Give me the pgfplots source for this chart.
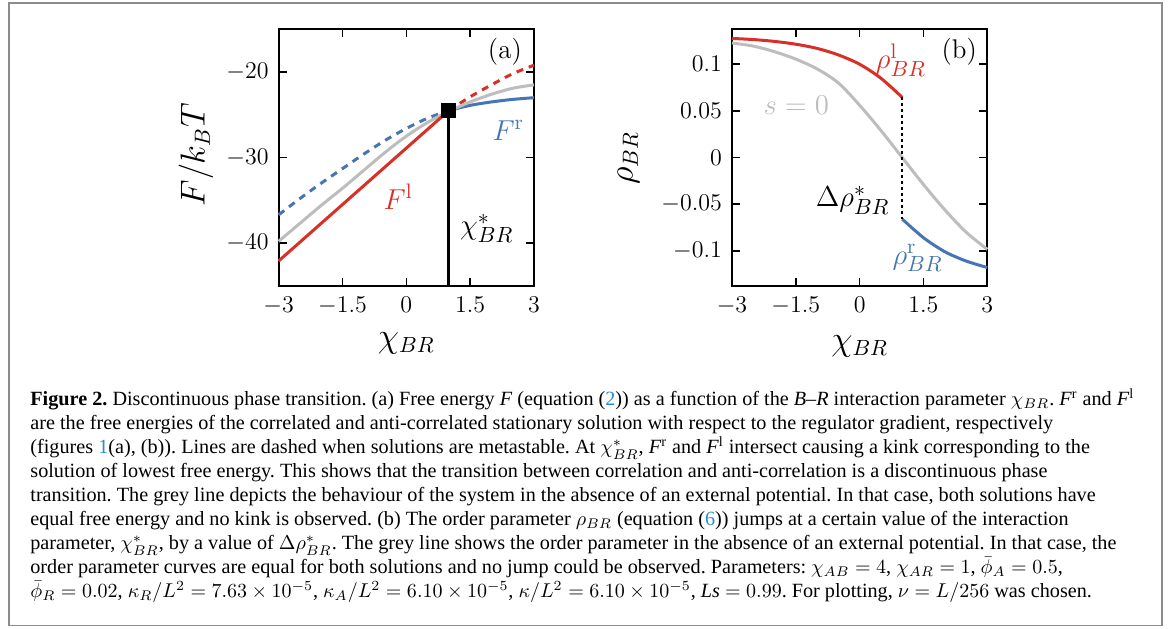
\documentclass[border=0pt]{standalone}
\usepackage{pgfplots}
\pgfplotsset{compat=1.18}
\usepackage{fontspec}
\newfontfamily\capfont{Liberation Serif}

\definecolor{cred}{HTML}{D73027}
\definecolor{cblue}{HTML}{4575B4}
\definecolor{cgrey}{HTML}{BDBDBD}
\definecolor{linkblue}{HTML}{2B8CD0}
\definecolor{framegrey}{HTML}{8C8C8C}

\pgfplotsset{
  panel/.style={
    scale only axis, width=127.65pt, height=128.2pt,
    anchor=south west, clip=false,
    xmin=-3, xmax=3,
    xtick={-3,-1.5,0,1.5,3},
    xticklabels={$-3$,$-1.5$,$0$,$1.5$,$3$},
    tick align=inside, xtick pos=both, ytick pos=both,
    major tick length=4pt,
    axis line style={line width=0.9pt},
    every tick/.style={black, line width=0.8pt},
    tick label style={font=\fontsize{11.5}{12}\selectfont},
    xticklabel style={yshift=-2pt},
    yticklabel style={xshift=-1.5pt},
    label style={font=\fontsize{16}{18}\selectfont},
    xlabel={$\chi_{BR}$},
  },
  curve/.style={line width=1.5pt, smooth},
  dashy/.style={dash pattern=on 3.5pt off 3pt},
}
\newcommand\lbl{\fontsize{15}{17}\selectfont}
\newcommand\Fsup[1]{\textit{F}\textsuperscript{#1}}
\tikzset{capline/.style={anchor=base west, inner sep=0pt,
  font=\capfont\fontsize{10.1}{12}\selectfont\frenchspacing}}

\begin{document}
\begin{tikzpicture}
\useasboundingbox (0,0) rectangle (585.5pt,314pt);
\draw[framegrey, line width=0.9pt] (4.5pt,1.3pt) rectangle (581pt,312.6pt);

% (a) free energy
\begin{axis}[panel, at={(139.35pt,171.15pt)},
  ymin=-45, ymax=-15, ytick={-40,-30,-20},
  yticklabels={$-40$,$-30$,$-20$},
  ylabel={$F/k_BT$},
  ylabel style={at={(axis description cs:-0.324,0.51)}, anchor=center},
  xlabel style={at={(axis description cs:0.5,-0.2235)}, anchor=center}]
\addplot[curve, cblue, dashy] coordinates {
  (-3,-36.7) (-2.5,-34.8) (-2,-33.0) (-1.5,-31.3) (-1,-29.6)
  (-0.5,-28.0) (0,-26.6) (0.5,-25.4) (1,-24.5)};
\addplot[curve, cblue] coordinates {
  (1,-24.5) (1.5,-23.9) (2,-23.5) (2.5,-23.2) (3,-23.0)};
\addplot[curve, cred, dashy] coordinates {
  (1,-24.5) (1.5,-22.9) (2,-21.5) (2.5,-20.2) (3,-19.2)};
\addplot[curve, cgrey] coordinates {
  (-3,-39.8) (-2.5,-37.7) (-2,-35.6) (-1.5,-33.6) (-1,-31.5)
  (-0.5,-29.4) (0,-27.5) (0.5,-25.9) (1,-24.6) (1.5,-23.5)
  (2,-22.6) (2.5,-21.9) (3,-21.5)};
\addplot[curve, cred] coordinates {
  (-3,-42.1) (-2.5,-39.9) (-2,-37.7) (-1.5,-35.5) (-1,-33.3)
  (-0.5,-31.1) (0,-28.9) (0.5,-26.7) (1,-24.5)};
\addplot[black, line width=1.5pt] coordinates {(1,-24.5) (1,-45)};
\addplot[only marks, mark=square*, mark size=3.5pt, black] coordinates {(1,-24.5)};
\node[font=\fontsize{13.5}{15}\selectfont] at (rel axis cs:0.886,0.913) {(a)};
\node[cblue, font=\lbl] at (rel axis cs:0.899,0.606) {$F^{\mathrm{r}}$};
\node[cred, font=\lbl] at (rel axis cs:0.468,0.347) {$F^{\mathrm{l}}$};
\node[font=\lbl] at (rel axis cs:0.815,0.224) {$\chi^*_{BR}$};
\end{axis}

% (b) order parameter
\begin{axis}[panel, at={(366pt,171.15pt)},
  ymin=-0.1375, ymax=0.1375, ytick={-0.1,-0.05,0,0.05,0.1},
  yticklabels={$-0.1$,$-0.05$,$0$,$0.05$,$0.1$},
  ylabel={$\rho_{BR}$},
  ylabel style={at={(axis description cs:-0.405,0.497)}, anchor=center},
  xlabel style={at={(axis description cs:0.5,-0.235)}, anchor=center}]
\addplot[curve, cgrey] coordinates {
  (-3,0.1228) (-2.5,0.1195) (-2,0.1135) (-1.5,0.1055) (-1,0.095)
  (-0.5,0.080) (0,0.056) (0.5,0.029) (1,0) (1.5,-0.029)
  (2,-0.056) (2.5,-0.080) (3,-0.0985)};
\addplot[curve, cred] coordinates {
  (-3,0.1277) (-2.5,0.1265) (-2,0.1245) (-1.5,0.1215) (-1,0.117)
  (-0.5,0.110) (0,0.100) (0.5,0.085) (1,0.0645)};
\addplot[curve, cblue] coordinates {
  (1,-0.066) (1.5,-0.086) (2,-0.101) (2.5,-0.111) (3,-0.118)};
\addplot[black, line width=1.2pt, dash pattern=on 1.5pt off 1.5pt]
  coordinates {(1,0.0645) (1,-0.066)};
\node[font=\fontsize{13.5}{15}\selectfont] at (rel axis cs:0.89,0.913) {(b)};
\node[cred, font=\lbl] at (rel axis cs:0.662,0.880) {$\rho^{\mathrm{l}}_{BR}$};
\node[cgrey, font=\lbl] at (rel axis cs:0.252,0.705) {$s=0$};
\node[font=\lbl] at (rel axis cs:0.473,0.334) {$\Delta\rho^*_{BR}$};
\node[cblue, font=\lbl] at (rel axis cs:0.727,0.107) {$\rho^{\mathrm{r}}_{BR}$};
\end{axis}

% caption, one node per printed line
\node[capline] at (15pt,111.15pt) {\textbf{Figure 2.} Discontinuous phase transition. (a) Free energy \textit{F} (equation ({\color{linkblue}2})) as a function of the \textit{B}–\textit{R} interaction parameter $\chi_{BR}$. \Fsup{r} and \Fsup{l}};
\node[capline] at (15pt,99.15pt) {are the free energies of the correlated and anti-correlated stationary solution with respect to the regulator gradient, respectively};
\node[capline] at (15pt,87.15pt) {(figures {\color{linkblue}1}(a), (b)). Lines are dashed when solutions are metastable. At $\chi^*_{BR}$, \Fsup{r} and \Fsup{l} intersect causing a kink corresponding to the};
\node[capline] at (15pt,75.15pt) {solution of lowest free energy. This shows that the transition between correlation and anti-correlation is a discontinuous phase};
\node[capline] at (15pt,63.15pt) {transition. The grey line depicts the behaviour of the system in the absence of an external potential. In that case, both solutions have};
\node[capline] at (15pt,51.15pt) {equal free energy and no kink is observed. (b) The order parameter $\rho_{BR}$ (equation ({\color{linkblue}6})) jumps at a certain value of the interaction};
\node[capline] at (15pt,39.15pt) {parameter, $\chi^*_{BR}$, by a value of $\Delta\rho^*_{BR}$. The grey line shows the order parameter in the absence of an external potential. In that case, the};
\node[capline] at (15pt,27.15pt) {order parameter curves are equal for both solutions and no jump could be observed. Parameters: $\chi_{AB}=4$, $\chi_{AR}=1$, $\bar{\phi}_A=0.5$,};
\node[capline] at (15pt,15.15pt) {$\bar{\phi}_R=0.02$, $\kappa_R/L^2=7.63\times10^{-5}$, $\kappa_A/L^2=6.10\times10^{-5}$, $\kappa/L^2=6.10\times10^{-5}$, \textit{Ls} $=0.99$. For plotting, $\nu=L/256$ was chosen.};
\end{tikzpicture}
\end{document}
